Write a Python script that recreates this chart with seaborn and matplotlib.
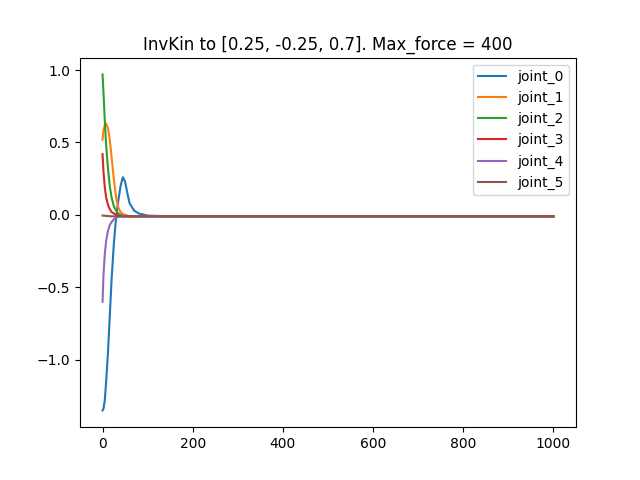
import matplotlib
matplotlib.use('Agg')
import matplotlib.pyplot as plt
import seaborn as sns
import pandas as pd

# sample steps
steps = [0, 2, 5, 8, 12, 16, 20, 25, 30, 35, 40, 45, 50, 55, 60, 70, 80, 100, 150, 300, 600, 1000]

joint_0 = [-1.35, -1.34, -1.28, -1.15, -0.95, -0.70, -0.45, -0.20, -0.02, 0.10, 0.20, 0.26, 0.23, 0.15, 0.08, 0.03, 0.01, -0.005, -0.01, -0.01, -0.01, -0.01]
joint_1 = [0.52, 0.58, 0.62, 0.63, 0.60, 0.52, 0.40, 0.25, 0.12, 0.05, 0.02, 0.005, 0.0, -0.005, -0.01, -0.01, -0.01, -0.01, -0.01, -0.01, -0.01, -0.01]
joint_2 = [0.97, 0.85, 0.65, 0.48, 0.32, 0.20, 0.12, 0.06, 0.03, 0.01, 0.0, -0.005, -0.01, -0.01, -0.01, -0.01, -0.01, -0.01, -0.01, -0.01, -0.01, -0.01]
joint_3 = [0.42, 0.30, 0.19, 0.12, 0.07, 0.04, 0.02, 0.01, 0.0, -0.005, -0.01, -0.01, -0.01, -0.01, -0.01, -0.01, -0.01, -0.01, -0.01, -0.01, -0.01, -0.01]
joint_4 = [-0.60, -0.42, -0.27, -0.18, -0.11, -0.07, -0.05, -0.03, -0.02, -0.015, -0.01, -0.01, -0.01, -0.01, -0.01, -0.01, -0.01, -0.01, -0.01, -0.01, -0.01, -0.01]
joint_5 = [-0.005, -0.005, -0.006, -0.007, -0.008, -0.009, -0.01, -0.01, -0.01, -0.01, -0.01, -0.01, -0.01, -0.01, -0.01, -0.01, -0.01, -0.01, -0.01, -0.01, -0.01, -0.01]

joints = {'joint_0': joint_0, 'joint_1': joint_1, 'joint_2': joint_2,
          'joint_3': joint_3, 'joint_4': joint_4, 'joint_5': joint_5}

rows = []
for name, vals in joints.items():
    for s, v in zip(steps, vals):
        rows.append({'step': s, 'value': v, 'joint': name})
df = pd.DataFrame(rows)

fig, ax = plt.subplots(figsize=(6.4, 4.8), dpi=100)
sns.lineplot(data=df, x='step', y='value', hue='joint', palette='tab10', ax=ax)
ax.set_xlabel('')
ax.set_ylabel('')
ax.set_title('InvKin to [0.25, -0.25, 0.7]. Max_force = 400')
ax.legend(loc='upper right')
plt.savefig('out.png', dpi=100)
